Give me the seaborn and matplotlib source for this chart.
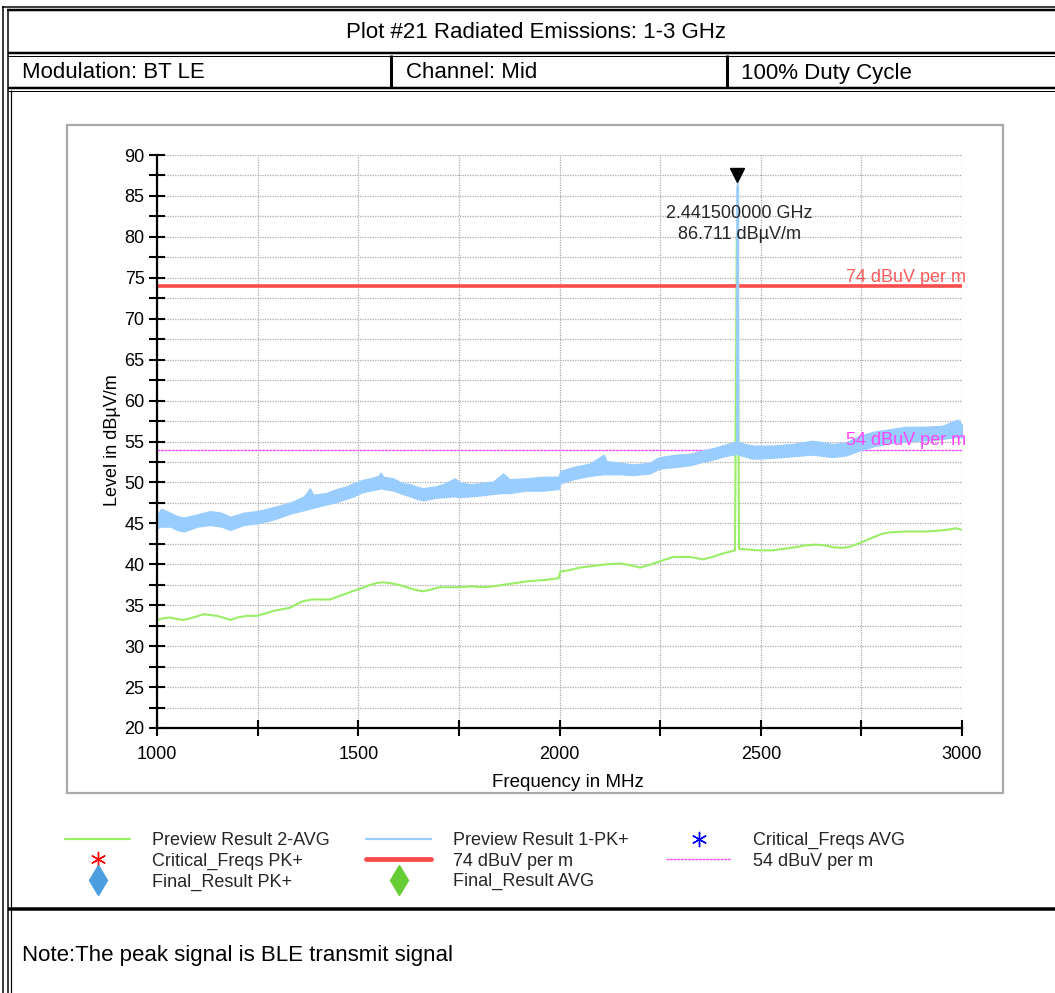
import matplotlib
matplotlib.use("Agg")
import matplotlib.pyplot as plt
import matplotlib.transforms as mtransforms
from matplotlib.lines import Line2D
from matplotlib.patches import Rectangle
import seaborn as sns
import pandas as pd

# ---------------- data ----------------
title_text = "Plot #21 Radiated Emissions: 1-3 GHz"
row_texts = ["Modulation: BT LE", "Channel: Mid", "100% Duty Cycle"]
note_text = "Note:The peak signal is BLE transmit signal"

# Preview Result 1-PK+ : lower / upper envelope of the noisy trace
pk_freq = [1000, 1010, 1033, 1050, 1066, 1100, 1132, 1160, 1182, 1215, 1248, 1275, 1298, 1320,
           1339, 1365, 1380, 1388, 1420, 1446, 1470, 1488, 1510, 1529, 1550, 1556, 1562, 1587,
           1610, 1628, 1645, 1661, 1690, 1711, 1740, 1752, 1780, 1802, 1835, 1860, 1876, 1917,
           1959, 1998, 2002, 2035, 2075, 2110, 2117, 2150, 2183, 2225, 2240, 2250, 2290,
           2324, 2355, 2382, 2410, 2431, 2439.0, 2439.5, 2440.5, 2441.5, 2442.5, 2443.5, 2444.0,
           2480, 2529,
           2579, 2628, 2678, 2712, 2745, 2780, 2820, 2860, 2903, 2950, 2990, 3000]
pk_low = [44.4, 44.6, 44.6, 44.2, 44.0, 44.6, 44.8, 44.6, 44.2, 44.8, 45.0, 45.3, 45.6, 46.0,
          46.3, 46.6, 46.8, 46.9, 47.3, 47.6, 48.0, 48.3, 48.8, 49.0, 49.2, 49.3, 49.2, 49.0,
          48.6, 48.3, 48.0, 47.8, 48.1, 48.2, 48.3, 48.2, 48.3, 48.4, 48.6, 48.7, 48.7, 49.0,
          49.0, 49.2, 49.9, 50.4, 50.8, 51.0, 51.0, 51.0, 50.9, 51.1, 51.5, 51.7, 51.9,
          52.1, 52.5, 52.8, 53.2, 53.4, 53.5, 53.5, 53.5, 53.5, 53.5, 53.4, 53.4,
          52.9, 53.0,
          53.2, 53.4, 53.1, 53.3, 53.9, 54.4, 54.8, 55.0, 55.1, 55.3, 55.6, 55.5]
pk_high = [46.0, 46.8, 46.3, 45.9, 45.7, 46.1, 46.5, 46.3, 45.8, 46.3, 46.5, 46.8, 47.1, 47.4,
           47.7, 48.3, 49.3, 48.5, 48.7, 49.2, 49.5, 49.9, 50.3, 50.5, 50.8, 51.2, 50.7, 50.5,
           49.9, 49.8, 49.5, 49.3, 49.5, 49.8, 50.5, 50.0, 49.8, 49.9, 50.1, 51.1, 50.4, 50.5,
           50.7, 50.7, 51.4, 51.9, 52.3, 53.4, 52.6, 52.4, 52.2, 52.4, 52.9, 53.1, 53.4,
           53.5, 53.9, 54.2, 54.6, 54.9, 55.0, 86.0, 86.4, 86.711, 86.4, 86.0, 54.9,
           54.5, 54.5,
           54.7, 55.1, 54.7, 54.9, 55.7, 56.2, 56.5, 56.8, 56.8, 56.9, 57.7, 57.0]

# Preview Result 2-AVG
avg_freq = [1000, 1015, 1033, 1050, 1066, 1090, 1116, 1149, 1170, 1182, 1200, 1223,
            1248, 1270, 1289, 1310, 1331, 1350, 1364, 1385, 1405, 1430, 1446, 1463,
            1485, 1504, 1525, 1545, 1562, 1579, 1600, 1620, 1640, 1661, 1680, 1702,
            1730, 1752, 1780, 1810, 1835, 1860, 1890, 1917, 1940, 1967, 1998, 2002,
            2025, 2051, 2085, 2117, 2150, 2175, 2200, 2215, 2233, 2258, 2283, 2324,
            2357, 2380, 2398, 2420, 2436, 2440.5, 2442.5, 2446, 2470, 2496, 2529,
            2560, 2587, 2610, 2636, 2660, 2678, 2700, 2719, 2735, 2752, 2770, 2785,
            2800, 2820, 2861, 2911, 2940, 2961, 2985, 3000]
avg_level = [33.2, 33.4, 33.5, 33.3, 33.2, 33.5, 33.9, 33.7, 33.4, 33.2, 33.5, 33.7,
             33.7, 34.0, 34.3, 34.5, 34.7, 35.2, 35.5, 35.7, 35.7, 35.7, 36.0, 36.3,
             36.7, 37.0, 37.4, 37.7, 37.8, 37.7, 37.5, 37.2, 36.9, 36.7, 36.9, 37.2,
             37.2, 37.2, 37.3, 37.2, 37.3, 37.5, 37.7, 37.9, 38.0, 38.1, 38.3, 39.1,
             39.3, 39.6, 39.8, 40.0, 40.1, 39.9, 39.6, 39.8, 40.1, 40.5, 40.9, 40.9,
             40.6, 40.9, 41.2, 41.5, 41.7, 80.0, 80.0, 41.9, 41.8, 41.7, 41.7,
             41.9, 42.1, 42.3, 42.4, 42.3, 42.1, 42.0, 42.1, 42.4, 42.7, 43.1, 43.4,
             43.7, 43.9, 44.0, 44.0, 44.1, 44.2, 44.4, 44.2]

limit_pk = 74.0
limit_avg = 54.0
limit_pk_label = "74 dBuV per m"
limit_avg_label = "54 dBuV per m"
peak_freq = 2441.5
peak_level = 86.711

x_ticks = [1000, 1500, 2000, 2500, 3000]
y_ticks = [20, 25, 30, 35, 40, 45, 50, 55, 60, 65, 70, 75, 80, 85, 90]

legend_col1 = ["Preview Result 2-AVG", "Critical_Freqs PK+", "Final_Result PK+"]
legend_col2 = ["Preview Result 1-PK+", "74 dBuV per m", "Final_Result AVG"]
legend_col3 = ["Critical_Freqs AVG", "54 dBuV per m"]

# ---------------- style ----------------
sns.set_theme(style="white")
plt.rcParams["font.family"] = ["Liberation Sans", "DejaVu Sans"]

C_AVG = "#99ee66"
C_PK = "#99ccff"
C_LIM1 = "#ff4c4c"
C_LIM2 = "#ff44ff"

W, H = 1055, 993
fig = plt.figure(figsize=(W / 100, H / 100), dpi=100)
fig.patch.set_facecolor("white")


def fx(x):
    return x / W


def fy(y):
    return 1 - y / H


def hline(y, x0, x1, lwpx, color="black"):
    fig.add_artist(Line2D([fx(x0), fx(x1)], [fy(y), fy(y)], transform=fig.transFigure,
                          color=color, lw=lwpx * 0.72, solid_capstyle="butt"))


def vline(x, y0, y1, lwpx, color="black"):
    fig.add_artist(Line2D([fx(x), fx(x)], [fy(y0), fy(y1)], transform=fig.transFigure,
                          color=color, lw=lwpx * 0.72, solid_capstyle="butt"))


# ---------------- table frame ----------------
hline(6.5, 2, W, 1.5)
hline(9.5, 7, W, 2.5)
vline(3, 6, H, 1.5)
vline(8, 9, H, 1.5)
vline(10.5, 90, H, 1.2)
hline(52.5, 8, W, 2.5)
hline(55.5, 8, W, 1.0)
hline(87.5, 8, W, 2.5)
hline(90.5, 8, W, 1.0)
vline(391, 55, 88, 3)
vline(727, 55, 88, 3)
hline(908.5, 8, W, 3.5)

head_font = dict(family=["Liberation Sans", "DejaVu Sans"], fontsize=16, color="black")
fig.text(fx(536), fy(32), title_text, ha="center", va="center", **head_font)
for txt, xp in zip(row_texts, [22, 406, 741]):
    fig.text(fx(xp), fy(73), txt, ha="left", va="center", **head_font)
fig.text(fx(22), fy(956), note_text, ha="left", va="center", **head_font)

# chart frame box
fig.add_artist(Rectangle((fx(67), fy(793)), fx(1003) - fx(67), fy(125) - fy(793),
                         transform=fig.transFigure, fill=False, edgecolor="#aaaaaa",
                         lw=1.6))

# ---------------- axes ----------------
ax = fig.add_axes([fx(157), fy(728), fx(962) - fx(157), fy(155) - fy(728)])
ax.set_facecolor("white")

pk_df = pd.DataFrame({"freq": pk_freq, "low": pk_low, "high": pk_high})
avg_df = pd.DataFrame({"freq": avg_freq, "level": avg_level})

ax.axhline(limit_avg, color=C_LIM2, lw=1.0, ls=(0, (2, 0.6)), zorder=2)
sns.lineplot(data=avg_df, x="freq", y="level", ax=ax, color=C_AVG, lw=1.5,
             estimator=None, sort=False, zorder=3)
ax.fill_between(pk_df["freq"], pk_df["low"], pk_df["high"], color=C_PK,
                edgecolor=C_PK, lw=0.9, zorder=4)
ax.axhline(limit_pk, color=C_LIM1, lw=2.6, zorder=3.5)

# peak marker and annotation
off = mtransforms.ScaledTranslation(0, 5 / 72, fig.dpi_scale_trans)
ax.plot([peak_freq], [peak_level], marker="v", color="black", markersize=10,
        transform=ax.transData + off, zorder=6, clip_on=False)
ax.annotate(f"{peak_freq / 1000:.9f} GHz\n{peak_level:.3f} dBµV/m",
            xy=(peak_freq, peak_level), xytext=(1.5, -30), textcoords="offset points",
            ha="center", va="center", fontsize=13, linespacing=1.3, zorder=7)

ax.annotate(limit_pk_label, xy=(3000, limit_pk), xytext=(3, 6), textcoords="offset points",
            ha="right", va="center", fontsize=13, color="#ff5a5a", zorder=7,
            annotation_clip=False)
ax.annotate(limit_avg_label, xy=(3000, limit_avg), xytext=(3, 6.5), textcoords="offset points",
            ha="right", va="center", fontsize=13, color=C_LIM2, zorder=7,
            annotation_clip=False)

ax.set_xlim(1000, 3000)
ax.set_ylim(20, 90)
ax.set_xticks(x_ticks)
ax.set_xticks([1250, 1750, 2250, 2750], minor=True)
ax.set_yticks(y_ticks)
ax.set_yticks([t + 2.5 for t in y_ticks[:-1]], minor=True)
ax.tick_params(axis="both", which="both", direction="inout", length=12, width=1.5,
               color="black", labelsize=13, labelcolor="black")
ax.tick_params(axis="y", which="both", left=True, pad=3)
ax.tick_params(axis="x", which="both", bottom=True, pad=7)
ax.grid(True, which="both", color="#aaaaaa", lw=0.9, ls=(0, (1, 1)))
ax.set_axisbelow(True)
for s in ["top", "right"]:
    ax.spines[s].set_visible(False)
for s in ["left", "bottom"]:
    ax.spines[s].set_color("black")
    ax.spines[s].set_linewidth(1.6)
    ax.spines[s].set_zorder(8)

ax.set_xlabel("Frequency in MHz", fontsize=13.5, color="black")
ax.set_ylabel("Level in dBµV/m", fontsize=13, color="black")
ax.xaxis.set_label_coords((568 - 157) / 805, (728 - 774) / 573)
ax.yaxis.set_label_coords((121 - 157) / 805, (728 - 440) / 573)

# ---------------- legend ----------------
h_col1 = [Line2D([], [], color=C_AVG, lw=1.6),
          Line2D([], [], color="red", marker=(6, 2, 0), ls="none", markersize=11, mew=1.0),
          Line2D([], [], color="#4b9fe0", marker="d", ls="none", markersize=15)]
h_col2 = [Line2D([], [], color=C_PK, lw=1.6),
          Line2D([], [], color=C_LIM1, lw=3.5),
          Line2D([], [], color="#66cc33", marker="d", ls="none", markersize=15)]
h_col3 = [Line2D([], [], color="blue", marker=(6, 2, 0), ls="none", markersize=11, mew=1.0),
          Line2D([], [], color=C_LIM2, lw=1.0, ls=(0, (2, 0.6)))]

for handles, labels, xp in [(h_col1, legend_col1, 65), (h_col2, legend_col2, 366),
                            (h_col3, legend_col3, 666)]:
    fig.legend(handles, labels, loc="upper left", bbox_to_anchor=(fx(xp), fy(832)),
               frameon=False, fontsize=13, handlelength=3.6, handletextpad=1.2,
               labelspacing=0.2, borderpad=0, borderaxespad=0)

fig.savefig("out.png", dpi=100, facecolor="white")
